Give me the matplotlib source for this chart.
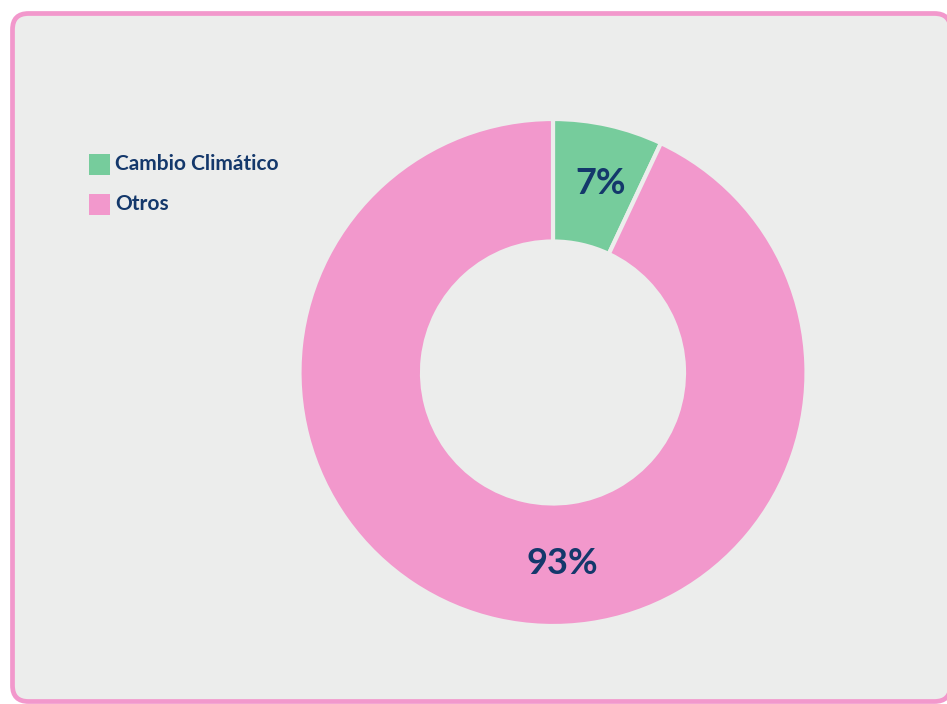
import matplotlib
matplotlib.use("Agg")
import matplotlib.pyplot as plt
from matplotlib.patches import FancyBboxPatch, Rectangle

categories = ["Cambio Climático", "Otros"]
values = [7, 93]
labels = ["7%", "93%"]
colors = ["#76CC9C", "#F298CC"]

BG = "#ECEDEC"
NAVY = "#14386B"
W, H = 947, 704
FONT = ["Lato", "DejaVu Sans"]

fig = plt.figure(figsize=(W / 100, H / 100), dpi=100)
fig.patch.set_facecolor("white")
ax = fig.add_axes([0, 0, 1, 1])

panel = FancyBboxPatch((12.5, 2.5), 938, 688, boxstyle="round,pad=0,rounding_size=16",
                       facecolor=BG, edgecolor="#F298CC", linewidth=3.4, zorder=0)
ax.add_patch(panel)

cx, cy = 553, H - 372.5
R = 253.5
wedges, _ = ax.pie(values, colors=colors, startangle=90, counterclock=False,
                   center=(cx, cy), radius=R, frame=True,
                   wedgeprops=dict(width=R - 131, edgecolor=BG, linewidth=3))
ax.set_xlim(0, W)
ax.set_ylim(0, H)
ax.set_aspect("equal")
ax.axis("off")

label_pos = [(601, H - 183), (562, H - 563)]
for (x, y), t in zip(label_pos, labels):
    ax.text(x, y, t, ha="center", va="center", fontsize=26, fontweight="bold",
            color=NAVY, family=FONT, zorder=5)

for i, (cat, col) in enumerate(zip(categories, colors)):
    y = H - (164.5 + 40 * i)
    ax.add_patch(Rectangle((89, y - 10.5), 21, 21, facecolor=col, edgecolor="none", zorder=5))
    ax.text(115, y + 1, cat, ha="left", va="center", fontsize=15, fontweight="bold",
            color=NAVY, family=FONT, zorder=5)

fig.savefig("out.png", dpi=100, facecolor="white")
